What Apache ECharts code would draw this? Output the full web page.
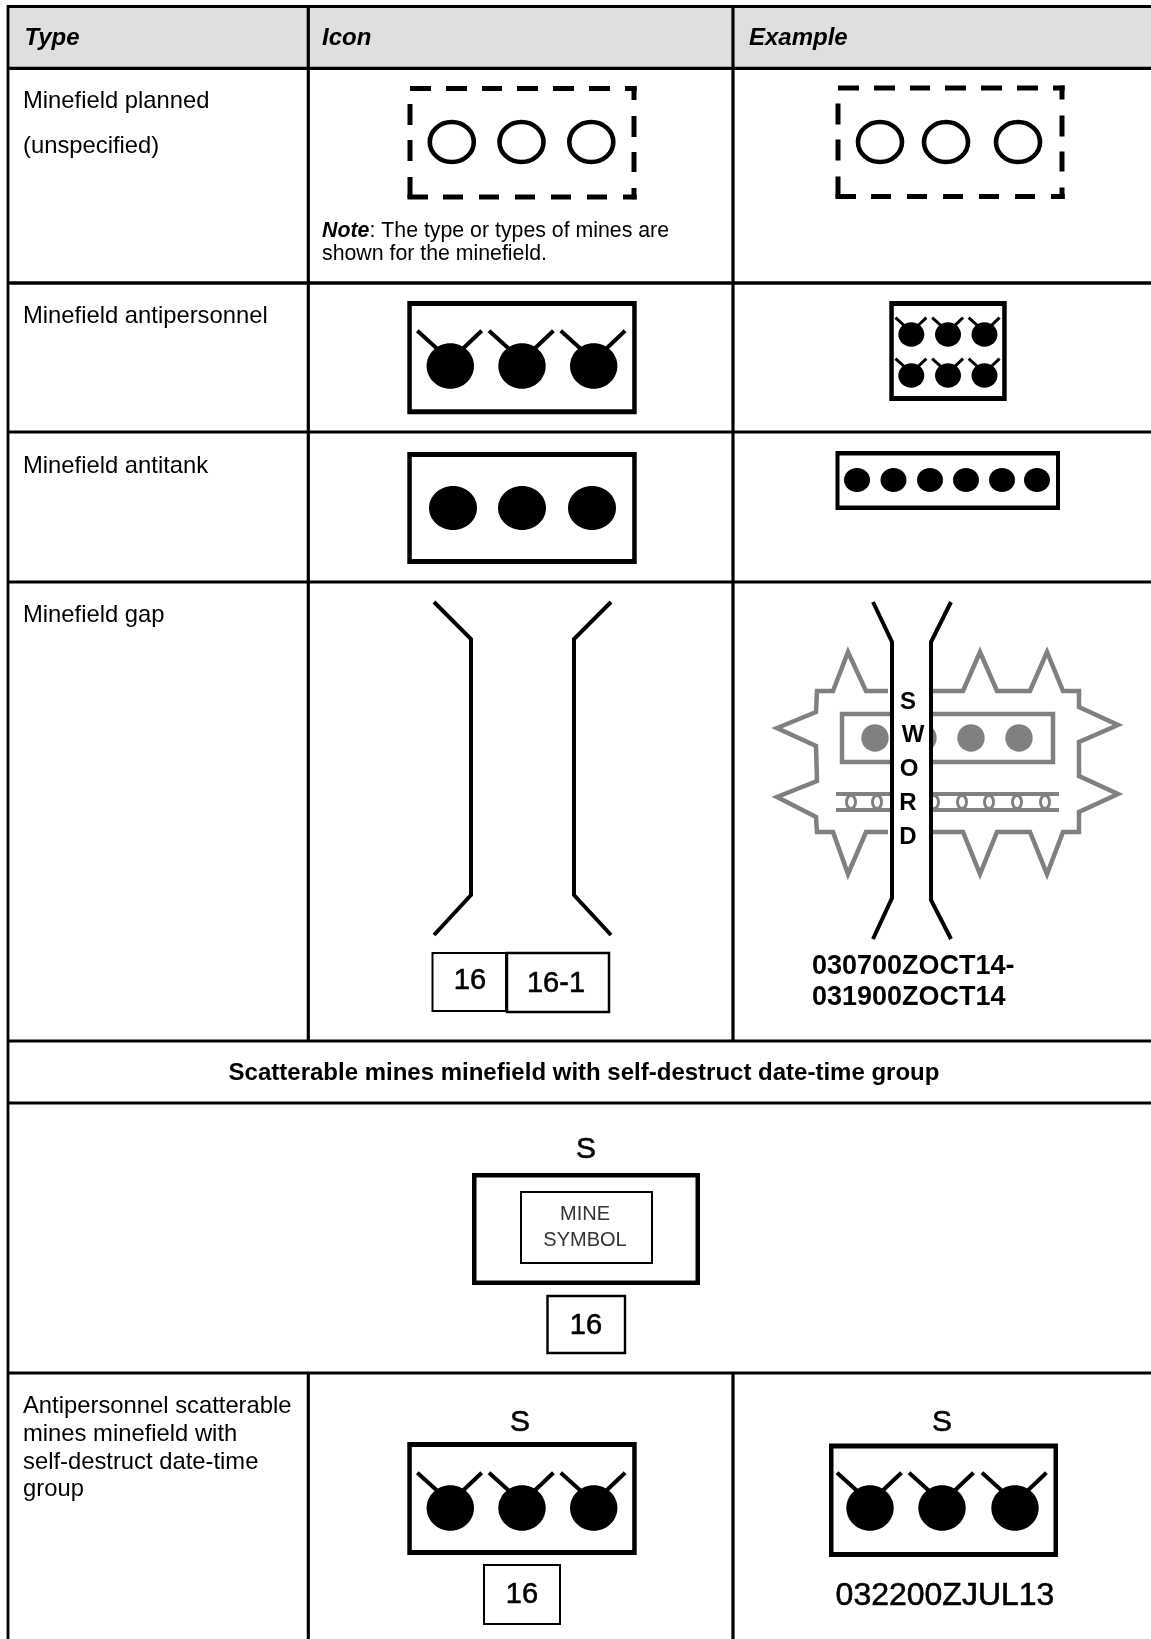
<!DOCTYPE html>
<html><head><meta charset="utf-8">
<style>html,body{margin:0;padding:0;background:#fff}#c{width:1151px;height:1639px}</style>
<script src="https://cdn.jsdelivr.net/npm/echarts@6/dist/echarts.min.js"></script>
</head><body><div id="c"></div>
<script>
// All values are in the reference picture's own units (x 0-1151, y 0-1639).
const headerBand = [[9, 6, 1151, 68]];
const tableRules = [
  [8,5,8,1639,2.8],[308.3,6,308.3,1041,3.2],[733,6,733,1041,3.2],
  [308.3,1373,308.3,1639,3.2],[733,1373,733,1639,3.2],
  [7,6.5,1151,6.5,3.2],[7,68.3,1151,68.3,3.2],[7,283,1151,283,3.4],[7,432,1151,432,3.2],
  [7,582,1151,582,3.2],[7,1041,1151,1041,3.2],[7,1103,1151,1103,3.2],[7,1373,1151,1373,3.2]
];
const plannedOffsets = [[0,0],[428,-0.5]];
const plannedDashes = [
  [410,88.5,431,88.5],[446,88.5,467,88.5],[482,88.5,502,88.5],[517,88.5,538,88.5],[553,88.5,574,88.5],[589,88.5,610,88.5],[625,88.5,636.7,88.5],
  [407.5,197,428,197],[443,197,463,197],[479,197,499,197],[515,197,535,197],[551,197,571,197],[587,197,607,197],[623,197,636.7,197],
  [410,104,410,125],[410,140,410,161],[410,177,410,198],
  [634,86,634,100],[634,116,634,137],[634,152,634,172],[634,188,634,199.3]
];
const plannedRings = [[451.8,142,22,20],[521.5,142,22,20],[591.3,142,22,20],[880,142,22,20],[946,142,22,20],[1018,142,22,20]];
const frames = [
  [407.3,301,636.7,414.3,5,4.5],[889.3,301,1006.7,401,5,4.5],
  [407.3,452,636.7,564,5,4.5],[835.5,451,1060,510,4.5,4],
  [472,1173,700,1285,4.5,4.5],
  [407.3,1442,636.7,1555,5,4.5],[829,1443.5,1058,1557,5,4.5]
];
const apMines = [
  [450.3,366,23.7,22.8,1],[522,366,23.7,22.8,1],[593.7,366,23.7,22.8,1],
  [911.3,334.5,13,12.2,.48],[948,334.5,13,12.2,.48],[984.5,334.5,13,12.2,.48],
  [911.3,375.5,13,12.2,.48],[948,375.5,13,12.2,.48],[984.5,375.5,13,12.2,.48],
  [450.3,1508,23.7,22.8,1],[522,1508,23.7,22.8,1],[593.7,1508,23.7,22.8,1],
  [870,1508,23.7,22.8,1],[942,1508,23.7,22.8,1],[1015,1508,23.7,22.8,1]
];
const atMines = [
  [453,508,24,22],[522,508,24,22],[592,508,24,22],
  [857,480,13,12],[893.5,480,13,12],[930,480,13,12],[966,480,13,12],[1002,480,13,12],[1037,480,13,12]
];
const gapLines = [
  [[434,602],[471,639],[471,895],[434,935]],
  [[611,602],[574,639],[574,895],[611,935]],
  [[873,602],[892,642],[892,898],[873,939]],
  [[951,602],[931,642],[931,900],[951,939]]
];
const obstacleOutlines = [
  [[888,691],[866,691],[848,652],[833,691],[817,691],[816,712],[777,728],[816,746],[817,781],[777,797],[816,817],[817,832],[833,832],[848,874],[866,832],[888,832]],
  [[933,691],[963,691],[980,652],[997,691],[1030,691],[1047,652],[1063,691],[1079,691],[1079,707],[1118,725],[1079,742],[1079,776],[1118,794],[1079,812],[1079,832],[1063,832],[1047,874],[1030,832],[997,832],[980,874],[963,832],[933,832]]
];
const obstacleBelt = [[842,714,1053,762]];
const obstacleDots = [[875,738,13.7],[923,738,13.7],[971,738,13.7],[1019,738,13.7]];
const wireRails = [[836,794,1059,794],[836,810,1059,810]];
const wireLoops = [[851,802],[877,802],[906,802],[934,802],[962,802],[989,802],[1017,802],[1045,802]];
const gapClear = [[893,640,930,900]];
const labelBoxes = [
  [432.5,953,506,1011,2],[507,953,609,1012,2.5],
  [521,1192,652,1263,2],[547.5,1296,625,1353,2.4],[484,1565,560,1624,2]
];
const texts = [
  ['Type',24.5,38.5,24,'italic bold','left','#000'],
  ['Icon',322,38.5,24,'italic bold','left','#000'],
  ['Example',749,38.5,24,'italic bold','left','#000'],
  ['Minefield planned',23,101,23.8,'normal','left','#000'],
  ['(unspecified)',23,146,23.8,'normal','left','#000'],
  ['Note',322,231,21.3,'italic bold','left','#000'],
  [': The type or types of mines are',369.5,231,21.3,'normal','left','#000'],
  ['shown for the minefield.',322,254.5,21.3,'normal','left','#000'],
  ['Minefield antipersonnel',23,316.5,23.8,'normal','left','#000'],
  ['Minefield antitank',23,466.5,23.8,'normal','left','#000'],
  ['Minefield gap',23,615.5,23.8,'normal','left','#000'],
  ['16',470,980.5,29,'medium','center','#000'],
  ['16-1',556,984,29,'medium','center','#000'],
  ['S',908,702,24,'bold','center','#000'],
  ['W',913,735,24,'bold','center','#000'],
  ['O',909,769,24,'bold','center','#000'],
  ['R',908,803,24,'bold','center','#000'],
  ['D',908,837,24,'bold','center','#000'],
  ['030700ZOCT14-',812,967,27,'bold','left','#000'],
  ['031900ZOCT14',812,998,27,'bold','left','#000'],
  ['Scatterable mines minefield with self-destruct date-time group',584,1073,24,'bold','center','#000'],
  ['S',586,1150,30,'medium','center','#000'],
  ['MINE',585,1214,20,'normal','center','#333'],
  ['SYMBOL',585,1240,20,'normal','center','#333'],
  ['16',586,1326,29,'medium','center','#000'],
  ['Antipersonnel scatterable',23,1406.5,23.8,'normal','left','#000'],
  ['mines minefield with',23,1434.5,23.8,'normal','left','#000'],
  ['self-destruct date-time',23,1462,23.8,'normal','left','#000'],
  ['group',23,1489,23.8,'normal','left','#000'],
  ['S',520,1423,30,'medium','center','#000'],
  ['S',942,1423,30,'medium','center','#000'],
  ['16',522,1595,29,'medium','center','#000'],
  ['032200ZJUL13',945,1596,32,'medium','center','#000']
];

const FONT = '"Liberation Sans", Arial, sans-serif';
const BLACK = '#000', GREY = '#808080', BAND = '#dfdfdf';

function layer(name, list, z, anchor, render) {
  return {
    type: 'custom', name, coordinateSystem: 'cartesian2d', z, clip: false, silent: true,
    data: list.map(d => anchor(d)),
    renderItem: (params, api) => render(list[params.dataIndex], api)
  };
}
const first2 = d => [d[0], d[1]];
const firstPt = d => d[0];
const P = (api, x, y) => api.coord([x, y]);
const boxOf = (api, b) => {
  const a = P(api, b[0], b[1]), c = P(api, b[2], b[3]);
  return { x: a[0], y: a[1], width: c[0] - a[0], height: c[1] - a[1] };
};
const lineOf = (api, x1, y1, x2, y2) => {
  const a = P(api, x1, y1), b = P(api, x2, y2);
  return { x1: a[0], y1: a[1], x2: b[0], y2: b[1] };
};
const ellipse = (api, cx, cy, rx, ry, style) => {
  const c = P(api, cx, cy), e = P(api, cx + rx, cy + ry);
  return { type: 'ellipse', shape: { cx: c[0], cy: c[1], rx: e[0] - c[0], ry: e[1] - c[1] }, style };
};

const plannedDashData = [];
plannedOffsets.forEach(o => plannedDashes.forEach(d => {
  plannedDashData.push([d[0] + o[0], d[1] + o[1], d[2] + o[0], d[3] + o[1], 5]);
}));

const series = [
  layer('band', headerBand, 1, first2, (b, api) => ({ type: 'rect', shape: boxOf(api, b), style: { fill: BAND } })),
  layer('rules', tableRules, 2, first2, (d, api) => ({ type: 'line', shape: lineOf(api, d[0], d[1], d[2], d[3]), style: { stroke: BLACK, lineWidth: d[4] } })),
  layer('plannedDashes', plannedDashData, 3, first2, (d, api) => ({ type: 'line', shape: lineOf(api, d[0], d[1], d[2], d[3]), style: { stroke: BLACK, lineWidth: d[4] } })),
  layer('plannedRings', plannedRings, 3, first2, (d, api) => ellipse(api, d[0], d[1], d[2], d[3], { fill: '#fff', stroke: BLACK, lineWidth: 4.6 })),
  layer('frames', frames, 3, first2, (d, api) => ({
    type: 'group', children: [
      { type: 'rect', shape: boxOf(api, d), style: { fill: BLACK } },
      { type: 'rect', shape: boxOf(api, [d[0] + d[5], d[1] + d[4], d[2] - d[5], d[3] - d[4]]), style: { fill: '#fff' } }
    ]
  })),
  layer('apMines', apMines, 4, first2, (d, api) => {
    const [cx, cy, rx, ry, s] = d;
    const w = s < 1 ? 3 : 4;
    return {
      type: 'group', children: [
        ellipse(api, cx, cy, rx, ry, { fill: BLACK }),
        { type: 'line', shape: lineOf(api, cx - 33 * s, cy - 35.3 * s, cx - 13.6 * s, cy - 17.7 * s), style: { stroke: BLACK, lineWidth: w } },
        { type: 'line', shape: lineOf(api, cx + 31.4 * s, cy - 35.3 * s, cx + 13 * s, cy - 17.7 * s), style: { stroke: BLACK, lineWidth: w } }
      ]
    };
  }),
  layer('atMines', atMines, 4, first2, (d, api) => ellipse(api, d[0], d[1], d[2], d[3], { fill: BLACK })),
  layer('obstacleOutlines', obstacleOutlines, 4, firstPt, (pts, api) => ({ type: 'polyline', shape: { points: pts.map(p => P(api, p[0], p[1])) }, style: { fill: null, stroke: GREY, lineWidth: 4.5 } })),
  layer('obstacleBelt', obstacleBelt, 4, first2, (b, api) => ({ type: 'rect', shape: boxOf(api, b), style: { fill: null, stroke: GREY, lineWidth: 4.5 } })),
  layer('obstacleDots', obstacleDots, 4, first2, (d, api) => ellipse(api, d[0], d[1], d[2], d[2], { fill: GREY })),
  layer('wireRails', wireRails, 4, first2, (d, api) => ({ type: 'line', shape: lineOf(api, d[0], d[1], d[2], d[3]), style: { stroke: GREY, lineWidth: 4.2 } })),
  layer('wireLoops', wireLoops, 4, first2, (d, api) => ellipse(api, d[0], d[1], 4.5, 6.5, { fill: null, stroke: GREY, lineWidth: 3 })),
  layer('gapClear', gapClear, 5, first2, (b, api) => ({ type: 'rect', shape: boxOf(api, b), style: { fill: '#fff' } })),
  layer('gapLines', gapLines, 6, firstPt, (pts, api) => ({ type: 'polyline', shape: { points: pts.map(p => P(api, p[0], p[1])) }, style: { fill: null, stroke: BLACK, lineWidth: 4 } })),
  layer('labelBoxes', labelBoxes, 6, first2, (d, api) => ({ type: 'rect', shape: boxOf(api, d), style: { fill: null, stroke: BLACK, lineWidth: d[4] } })),
  layer('texts', texts, 7, d => [d[1], d[2]], (d, api) => {
    const p = P(api, d[1], d[2]);
    const parts = d[4].split(' ');
    const style = {
      x: p[0], y: p[1], text: d[0], fill: d[6], textAlign: d[5], textVerticalAlign: 'middle', verticalAlign: 'middle',
      fontFamily: FONT, fontSize: d[3],
      fontStyle: parts.includes('italic') ? 'italic' : 'normal',
      fontWeight: parts.includes('bold') ? 'bold' : 'normal'
    };
    if (parts.includes('medium')) { style.stroke = d[6]; style.lineWidth = 0.6; }
    return { type: 'text', style };
  })
];

const chart = echarts.init(document.getElementById('c'), null, { renderer: 'canvas', width: 1151, height: 1639 });
chart.setOption({
  animation: false,
  backgroundColor: '#fff',
  grid: { left: 0, right: 0, top: 0, bottom: 0 },
  xAxis: { type: 'value', min: 0, max: 1151, show: false },
  yAxis: { type: 'value', min: 0, max: 1639, inverse: true, show: false },
  tooltip: { show: false },
  series
});
</script></body></html>
